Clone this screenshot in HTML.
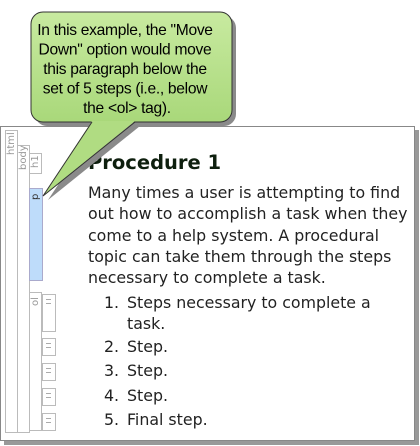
<!DOCTYPE html>
<html><head><style>
body{margin:0;width:420px;height:446px;background:#fff;position:relative;overflow:hidden;font-family:"DejaVu Sans","Liberation Sans",sans-serif}
.a{position:absolute;box-sizing:border-box}
.panel{left:0;top:126px;width:415px;height:315px;border:1px solid #888;background:#fff;box-shadow:4px 4px 0 #999}
.col{border:1px solid #bbb;background:#fff}
.lbl{position:absolute;font-size:10px;color:#999;transform:rotate(-90deg);transform-origin:left top;white-space:nowrap}
.li{border:1px solid #bbb;background:#fff}
.li:after{content:"";position:absolute;left:3px;top:4px;width:5px;height:3px;border-top:1px solid #aaa;border-bottom:1px solid #aaa}
.t{position:absolute;font-size:15.8px;color:#222;white-space:nowrap}
</style></head><body>
<div class="a panel"></div>
<div class="a col" style="left:5px;top:130px;width:13px;height:303px"></div>
<div class="lbl" style="left:6px;top:155px">html</div>
<div class="a col" style="left:17px;top:145px;width:13px;height:288px"></div>
<div class="lbl" style="left:18px;top:170px">body</div>
<div class="a col" style="left:29px;top:153px;width:13px;height:21px"></div>
<div class="lbl" style="left:30px;top:168px">h1</div>
<div class="a" style="left:29px;top:188px;width:14px;height:93px;background:#bedcfa;border:1px solid #aac"></div>
<div class="lbl" style="left:30px;top:200px;color:#333">p</div>
<div class="a col" style="left:29px;top:292px;width:13px;height:139px"></div>
<div class="lbl" style="left:30px;top:306px">ol</div>
<div class="a li" style="left:42px;top:294px;width:14px;height:38px"></div>
<div class="a li" style="left:42px;top:338px;width:14px;height:18px"></div>
<div class="a li" style="left:42px;top:363px;width:14px;height:18px"></div>
<div class="a li" style="left:42px;top:388px;width:14px;height:18px"></div>
<div class="a li" style="left:42px;top:413px;width:14px;height:18px"></div>

<div class="t" style="left:88px;top:151px;font-size:19.5px;font-weight:bold;color:#0e1f0e">Procedure 1</div>
<div class="t" style="left:88px;top:182px;line-height:21.3px">Many times a user is attempting to find<br>out how to accomplish a task when they<br>come to a help system. A procedural<br>topic can take them through the steps<br>necessary to complete a task.</div>
<div class="t" style="left:104px;top:292px;line-height:21px">1.</div>
<div class="t" style="left:127px;top:292px;line-height:21px">Steps necessary to complete a<br>task.</div>
<div class="t" style="left:104px;top:337px">2.</div><div class="t" style="left:127px;top:337px">Step.</div>
<div class="t" style="left:104px;top:361px">3.</div><div class="t" style="left:127px;top:361px">Step.</div>
<div class="t" style="left:104px;top:386px">4.</div><div class="t" style="left:127px;top:386px">Step.</div>
<div class="t" style="left:104px;top:410px">5.</div><div class="t" style="left:127px;top:410px">Final step.</div>

<svg class="a" style="left:0;top:0" width="420" height="446">
<defs><linearGradient id="g" x1="0" y1="0" x2="0" y2="1"><stop offset="0" stop-color="#c8eaa0"/><stop offset="1" stop-color="#a9d87a"/></linearGradient></defs>
<g fill="#8a8a8a">
<rect x="35" y="16" width="201" height="110" rx="12"/>
<polygon points="97,126 140,126 48,200"/>
</g>
<rect x="31" y="12" width="201" height="110" rx="12" fill="url(#g)" stroke="#333" stroke-width="1"/>
<polygon points="92,121 135,121 43,196" fill="#b0dc82"/>
<polyline points="92,122 43,196 135,122" fill="none" stroke="#333" stroke-width="1"/>
<text font-family="Liberation Sans,sans-serif" font-size="15.6" fill="#000" text-anchor="middle" letter-spacing="-0.3">
<tspan x="127" y="35">In this example, the "Move</tspan>
<tspan x="127" y="54.5">Down" option would move</tspan>
<tspan x="127" y="74">this paragraph below the</tspan>
<tspan x="127" y="93.5">set of 5 steps (i.e., below</tspan>
<tspan x="127" y="113">the &lt;ol&gt; tag).</tspan>
</text>
</svg>
</body></html>
